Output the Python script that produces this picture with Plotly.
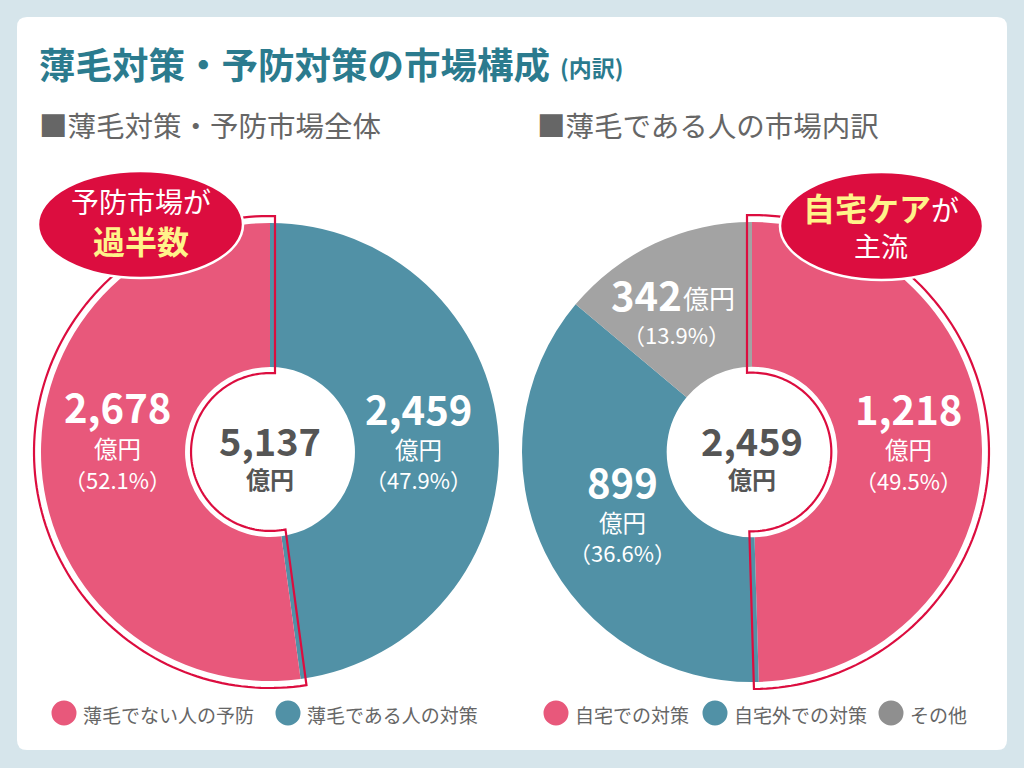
import math
import plotly.graph_objects as go

W, H = 1024, 768

# ---------------- data ----------------
left_labels = ["薄毛でない人の予防", "薄毛である人の対策"]
left_values = [2678, 2459]
left_total = 5137

right_labels = ["自宅での対策", "自宅外での対策", "その他"]
right_values = [1218, 899, 342]
right_total = 2459

title_text = "薄毛対策・予防対策の市場構成"
title_sub = "(内訳)"
left_heading = "■薄毛対策・予防市場全体"
right_heading = "■薄毛である人の市場内訳"

# ---------------- style ----------------
BG = "#d6e5eb"
PINK = "#e8587b"
TEAL = "#5191a6"
GRAY = "#a3a3a3"
GRAY_LEG = "#8f8f8f"
RED = "#dc0d3f"
YELLOW = "#fff38a"
TITLE = "#2b7b8e"
TXT = "#666666"
DARK = "#555555"
FONT = "Noto Sans CJK JP"


def px(x):
    return x / W


def py(y):
    return 1 - y / H


# pie geometry (pixels)
L_C, L_R = (270, 452), 229
R_C, R_R = (752, 452), 230
HOLE = 0.371


def domain(c, r):
    return dict(x=[px(c[0] - r), px(c[0] + r)], y=[py(c[1] + r), py(c[1] - r)])


fig = go.Figure()
# left donut: first category runs anticlockwise from 12 o'clock, i.e. the
# reversed order drawn clockwise
fig.add_trace(go.Pie(
    values=left_values[::-1], labels=left_labels[::-1], sort=False, direction="clockwise",
    rotation=0, hole=HOLE, textinfo="none", hoverinfo="label+value",
    marker=dict(colors=[TEAL, PINK], line=dict(width=0)),
    domain=domain(L_C, L_R), showlegend=False))
fig.add_trace(go.Pie(
    values=right_values, labels=right_labels, sort=False, direction="clockwise",
    rotation=0, hole=HOLE, textinfo="none", hoverinfo="label+value",
    marker=dict(colors=[PINK, TEAL, GRAY], line=dict(width=0)),
    domain=domain(R_C, R_R), showlegend=False))

shapes = []

# card
x0, y0, x1, y1, rr = 17, 17, 1007, 750, 10
card = (f"M {px(x0+rr)},{py(y0)} L {px(x1-rr)},{py(y0)} Q {px(x1)},{py(y0)} {px(x1)},{py(y0+rr)} "
        f"L {px(x1)},{py(y1-rr)} Q {px(x1)},{py(y1)} {px(x1-rr)},{py(y1)} "
        f"L {px(x0+rr)},{py(y1)} Q {px(x0)},{py(y1)} {px(x0)},{py(y1-rr)} "
        f"L {px(x0)},{py(y0+rr)} Q {px(x0)},{py(y0)} {px(x0+rr)},{py(y0)} Z")
shapes.append(dict(type="path", path=card, xref="paper", yref="paper",
                   fillcolor="white", line=dict(width=0), layer="below"))


def outline(c, R, frac, direction):
    """offset outline around the first slice (angles clockwise from 12 o'clock)."""
    span = 360 * frac
    if direction == "clockwise":
        a_min, a_max = 0.0, span
    else:
        a_min, a_max = -span, 0.0
    Ro, Ri, d = R + 7, R * HOLE - 6, 5
    do = math.degrees(math.asin(d / Ro))
    di = math.degrees(math.asin(d / Ri))
    pts = []
    n = 120
    for i in range(n + 1):
        a = (a_min - do) + (a_max - a_min + 2 * do) * i / n
        pts.append((c[0] + Ro * math.sin(math.radians(a)), c[1] - Ro * math.cos(math.radians(a))))
    for i in range(n + 1):
        a = (a_max + di) - (a_max - a_min + 2 * di) * i / n
        pts.append((c[0] + Ri * math.sin(math.radians(a)), c[1] - Ri * math.cos(math.radians(a))))
    p = "M " + " L ".join(f"{px(x):.5f},{py(y):.5f}" for x, y in pts) + " Z"
    return dict(type="path", path=p, xref="paper", yref="paper",
                line=dict(color=RED, width=2.2), fillcolor="rgba(0,0,0,0)", layer="above")


shapes.append(outline(L_C, L_R, left_values[0] / sum(left_values), "counterclockwise"))
shapes.append(outline(R_C, R_R, right_values[0] / sum(right_values), "clockwise"))

# badges
for bx0, by0, bx1, by1 in [(38, 171, 243, 278), (780, 172, 983, 280)]:
    shapes.append(dict(type="circle", xref="paper", yref="paper",
                       x0=px(bx0), x1=px(bx1), y0=py(by1), y1=py(by0),
                       fillcolor=RED, line=dict(color="white", width=2.5), layer="above"))

# legend dots
leg_left = [(64, PINK), (288, TEAL)]
leg_right = [(556, PINK), (715, TEAL), (891, GRAY_LEG)]
for cx, col in leg_left + leg_right:
    shapes.append(dict(type="circle", xref="paper", yref="paper",
                       x0=px(cx - 12.5), x1=px(cx + 12.5), y0=py(713 + 12.5), y1=py(713 - 12.5),
                       fillcolor=col, line=dict(width=0), layer="above"))

ann = []


def A(text, x, y, size, color, xanchor="center", bold=False):
    t = f"<b>{text}</b>" if bold else text
    ann.append(dict(text=t, x=px(x), y=py(y), xref="paper", yref="paper",
                    xanchor=xanchor, yanchor="middle", showarrow=False, borderpad=0,
                    font=dict(family=FONT, size=size, color=color)))


# titles
A(title_text, 38, 63, 36.5, TITLE, "left", True)
A(title_sub, 559, 67, 23, TITLE, "left", True)
A(left_heading, 38, 124, 28.5, TXT, "left")
A(right_heading, 536, 124, 28.5, TXT, "left")

# badges text
A("予防市場が", 141, 201, 28, "white")
A("過半数", 141, 240, 32, YELLOW, bold=True)
ann.append(dict(text=f"<span style='color:{YELLOW}'><b>自宅ケア</b></span><span style='font-size:28px'>が</span>",
                x=px(881), y=py(207), xref="paper", yref="paper", xanchor="center", yanchor="middle",
                showarrow=False, font=dict(family=FONT, size=32, color="white")))
A("主流", 881, 245, 27, "white")


def pct(v, tot):
    return f"（{v / tot * 100:.1f}%）"


# left pie labels
A(f"{left_values[0]:,}", 117, 406, 40, "white", bold=True)
A("億円", 117, 448, 23.5, "white")
A(pct(left_values[0], left_total), 117, 479, 22, "white")
A(f"{left_values[1]:,}", 418, 408, 40, "white", bold=True)
A("億円", 418, 449, 23.5, "white")
A(pct(left_values[1], left_total), 418, 479, 22, "white")
A(f"{left_total:,}", 270, 439, 38, DARK, bold=True)
A("億円", 270, 478, 24, DARK, bold=True)

# right pie labels
A(f"{right_values[0]:,}", 908, 408, 40, "white", bold=True)
A("億円", 908, 449, 23.5, "white")
A(pct(right_values[0], right_total), 908, 480, 22, "white")
A(f"{right_values[1]:,}", 622, 481, 40, "white", bold=True)
A("億円", 622, 522, 23.5, "white")
A(pct(right_values[1], right_total), 622, 552, 22, "white")
A(f"{right_values[2]:,}", 683, 294, 40, "white", "right", True)
A("億円", 682, 298, 26, "white", "left")
A(pct(right_values[2], right_total), 676, 334, 22, "white")
A(f"{right_total:,}", 752, 439, 38, DARK, bold=True)
A("億円", 752, 478, 24, DARK, bold=True)

# legend text
for (cx, _), lab in zip(leg_left + leg_right, left_labels + right_labels):
    A(lab, cx + 18, 714, 19, TXT, "left")

fig.update_layout(
    width=W, height=H, margin=dict(l=0, r=0, t=0, b=0),
    paper_bgcolor=BG, plot_bgcolor=BG,
    shapes=shapes, annotations=ann, showlegend=False,
    font=dict(family=FONT),
)
fig.write_html("out.html", config={"displayModeBar": False})
